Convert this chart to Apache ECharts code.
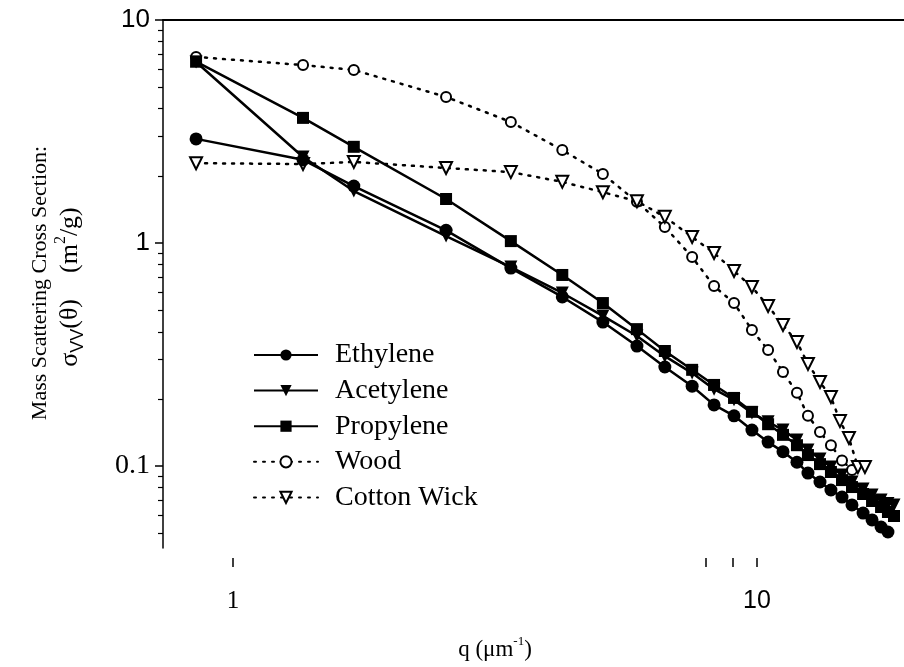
<!DOCTYPE html>
<html><head><meta charset="utf-8">
<script src="https://cdn.jsdelivr.net/npm/echarts@6/dist/echarts.min.js"></script>
<style>html,body{margin:0;padding:0;background:#fff}#c{width:904px;height:667px}</style>
</head><body><div id="c"></div>
<script>
// q values (µm^-1)
const qSolid = [0.85,1.36,1.70,2.55,3.39,4.25,5.08,5.90,6.67,7.52,8.28,9.04,9.78,10.50,11.21,11.92,12.51,13.19,13.84,14.53,15.18,15.94,16.58,17.25,17.78,18.26];
const qCotton = [0.85,1.36,1.70,2.55,3.39,4.25,5.08,5.90,6.67,7.52,8.28,9.04,9.78,10.50,11.21,11.92,12.51,13.19,13.84,14.40,14.98,15.58,16.07];
// series values (m^2/g)
const ethylene  = [2.93,2.36,1.80,1.14,0.772,0.573,0.442,0.345,0.278,0.228,0.188,0.168,0.145,0.128,0.116,0.104,0.093,0.0848,0.0781,0.0726,0.0669,0.0615,0.0573,0.0533,0.0506];
const acetylene = [6.48,2.43,1.71,1.075,0.78,0.597,0.471,0.383,0.311,0.261,0.221,0.198,0.173,0.158,0.145,0.131,0.118,0.1075,0.099,0.0911,0.0848,0.0788,0.0741,0.0704,0.0680,0.0669];
const propylene = [6.5,3.64,2.70,1.575,1.02,0.719,0.538,0.411,0.328,0.27,0.231,0.202,0.175,0.154,0.138,0.124,0.112,0.102,0.094,0.0865,0.0805,0.0749,0.0697,0.0655,0.0622,0.0597];
const wood      = [6.83,6.28,5.97,4.52,3.49,2.61,2.04,1.53,1.18,0.865,0.641,0.538,0.407,0.331,0.264,0.213,0.168,0.142,0.124,0.106,0.096];
const cotton    = [2.28,2.26,2.31,2.17,2.08,1.88,1.69,1.54,1.31,1.064,0.902,0.749,0.635,0.522,0.429,0.360,0.287,0.238,0.204,0.159,0.1335,0.099,0.099];
const names = ['Ethylene','Acetylene','Propylene','Wood','Cotton Wick'];
const xTickLabels = [1, 10];
const yTickLabels = [0.1, 1, 10];
const yMinorTicks = [0.05,0.06,0.07,0.08,0.09,0.2,0.3,0.4,0.5,0.6,0.7,0.8,0.9,2,3,4,5,6,7,8,9];
const xMinorTicks = [8, 9];

const XMIN = 0.735, XMAX = 19.08, YMIN = 0.0429, YMAX = 10;
const pair = (xs, ys) => ys.map((v, i) => [xs[i], v]);
const SERIF = '"Liberation Serif", "Times New Roman", serif';
const SANS = '"Liberation Sans", Arial, sans-serif';

const dotted = {color:'#000', width:2.5, type:[2,7], cap:'round'};
const solid = {color:'#000', width:2.5};

const chart = echarts.init(document.getElementById('c'), null, {renderer:'canvas'});
chart.setOption({
  animation:false,
  backgroundColor:'#fff',
  grid:{left:163, top:20, right:0, bottom:119, containLabel:false},
  xAxis:[{
    type:'log', min:XMIN, max:XMAX, position:'bottom', offset:10,
    axisLine:{show:false},
    axisTick:{show:true, customValues:xTickLabels.concat(xMinorTicks), length:9, inside:false, lineStyle:{color:'#000', width:1.5}},
    minorTick:{show:false},
    splitLine:{show:false},
    axisLabel:{customValues:xTickLabels, margin:31, color:'#000',
      formatter:v => Math.round(Math.log10(v)) === 0 ? '{s|1}' : '{n|10}',
      rich:{s:{fontFamily:SERIF, fontSize:25, color:'#000'}, n:{fontFamily:'"Liberation Sans Narrow", '+SANS, fontSize:25, color:'#000'}}}
  },{
    type:'log', min:XMIN, max:XMAX, position:'top',
    axisLine:{show:true, lineStyle:{color:'#000', width:2}},
    axisTick:{show:false}, axisLabel:{show:false}, splitLine:{show:false}
  }],
  yAxis:[{
    type:'log', min:YMIN, max:YMAX, position:'left',
    axisLine:{show:true, lineStyle:{color:'#000', width:1.5}},
    axisTick:{show:true, customValues:yTickLabels, length:8, lineStyle:{color:'#000', width:1.5}},
    splitLine:{show:false},
    axisLabel:{customValues:yTickLabels, margin:13, color:'#000',
      formatter:v => { const e = Math.round(Math.log10(v)); return e === -1 ? '{s|0.1}' : (e === 0 ? '{n|1}' : '{n|10}'); },
      rich:{s:{fontFamily:SERIF, fontSize:28, color:'#000'}, n:{fontFamily:SANS, fontSize:26, color:'#000'}}}
  },{
    type:'log', min:YMIN, max:YMAX, position:'left',
    axisLine:{show:false},
    axisTick:{show:true, customValues:yMinorTicks, length:5, lineStyle:{color:'#000', width:1.2}},
    axisLabel:{show:false}, splitLine:{show:false}
  }],
  legend:{
    orient:'vertical', left:248, top:336,
    itemWidth:64, itemHeight:14, itemGap:7.6,
    data:names,
    textStyle:{fontFamily:SERIF, fontSize:28, color:'#000', padding:[0,0,0,12]}
  },
  series:[
    {name:names[3], type:'line', data:pair(qSolid, wood), symbol:'circle', symbolSize:10, z:2,
      lineStyle:dotted, itemStyle:{color:'#fff', borderColor:'#000', borderWidth:2}},
    {name:names[4], type:'line', data:pair(qCotton, cotton), symbol:'triangle', symbolRotate:180, symbolSize:12, z:2,
      lineStyle:dotted, itemStyle:{color:'#fff', borderColor:'#000', borderWidth:2}},
    {name:names[0], type:'line', data:pair(qSolid, ethylene), symbol:'circle', symbolSize:13, z:3,
      lineStyle:solid, itemStyle:{color:'#000'}},
    {name:names[1], type:'line', data:pair(qSolid, acetylene), symbol:'triangle', symbolRotate:180, symbolSize:13, z:3,
      lineStyle:solid, itemStyle:{color:'#000'}},
    {name:names[2], type:'line', data:pair(qSolid, propylene), symbol:'rect', symbolSize:12, z:3,
      lineStyle:solid, itemStyle:{color:'#000'}}
  ],
  graphic:[
    {type:'text', x:40, y:283, rotation:Math.PI/2,
      style:{text:'Mass Scattering Cross Section:', font:'22px '+SERIF, fill:'#000', align:'center', verticalAlign:'middle'}},
    {type:'text', x:70, y:287, rotation:Math.PI/2,
      style:{text:'{a|σ}{sub|VV}{a|(θ)    (m}{sup|2}{a|/g)}', align:'center', verticalAlign:'middle',
        rich:{a:{fontFamily:SERIF, fontSize:26, fill:'#000', lineHeight:34, verticalAlign:'middle'},
              sub:{fontFamily:SANS, fontSize:18, fill:'#000', lineHeight:34, verticalAlign:'bottom'},
              sup:{fontFamily:SERIF, fontSize:16, fill:'#000', lineHeight:34, verticalAlign:'top'}}}},
    {type:'text', x:495, y:650,
      style:{text:'{a|q (μm}{sup|-1}{a|)}', align:'center', verticalAlign:'middle',
        rich:{a:{fontFamily:SERIF, fontSize:23, fill:'#000', lineHeight:30, verticalAlign:'middle'},
              sup:{fontFamily:SERIF, fontSize:13, fill:'#000', lineHeight:30, verticalAlign:'top'}}}}
  ]
});
</script></body></html>
